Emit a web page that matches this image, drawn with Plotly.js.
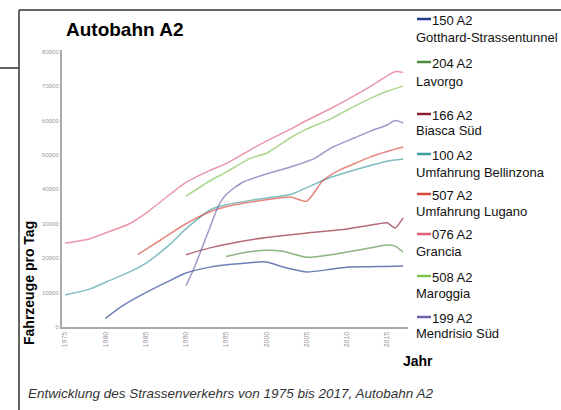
<!DOCTYPE html>
<html>
<head>
<meta charset="utf-8">
<script src="https://cdn.plot.ly/plotly-3.0.1.min.js"></script>
<style>
html,body{margin:0;padding:0;background:#fff;}
#chart{width:561px;height:410px;}
</style>
</head>
<body>
<div id="chart"></div>
<script>
// ---- data ----
const seriesCodes = ["150 A2","204 A2","166 A2","100 A2","507 A2","076 A2","508 A2","199 A2"];
const seriesNames = ["Gotthard-Strassentunnel","Lavorgo","Biasca Süd","Umfahrung Bellinzona","Umfahrung Lugano","Grancia","Maroggia","Mendrisio Süd"];
const seriesColors = ["#1f3c8f","#4c8c3c","#8b1c2c","#3c9aa0","#d9473a","#e0607a","#7cc050","#7060a8"];

const yrs150 = [1980,1982,1985,1988,1990,1993,1996,2000,2002,2005,2008,2010,2013,2015,2017];
const val150 = [2500,6000,10000,13500,15700,17400,18300,18900,17500,16000,16800,17400,17500,17600,17700];

const yrs204 = [1995,1997,2000,2002,2005,2008,2010,2013,2015,2016,2017];
const val204 = [20500,21500,22300,22000,20300,21000,21800,23000,23800,23500,21800];

const yrs166 = [1990,1993,1996,2000,2005,2010,2014,2015,2016,2017];
const val166 = [21000,23000,24500,26000,27300,28500,30000,30300,28800,31700];

const yrs100 = [1975,1978,1980,1983,1985,1988,1990,1993,1995,1998,2001,2003,2005,2008,2010,2013,2015,2017];
const val100 = [9300,11000,13000,16000,18500,24000,28500,34000,35500,36800,37800,38500,40500,43500,45000,47000,48200,48800];

const yrs507 = [1984,1987,1990,1993,1996,2000,2003,2005,2007,2009,2011,2013,2015,2017];
const val507 = [21000,25500,30000,33500,35500,37000,37800,36500,42500,45500,47500,49500,51000,52300];

const yrs076 = [1975,1978,1980,1983,1985,1988,1990,1993,1995,1998,2000,2003,2005,2008,2010,2013,2015,2016,2017];
const val076 = [24400,25600,27300,30000,33000,38500,42000,45500,47500,51500,54000,57500,60000,63500,66000,70000,73000,74200,74000];

const yrs508 = [1990,1993,1995,1998,2000,2003,2005,2008,2010,2013,2015,2017];
const val508 = [38000,42500,45000,49000,50500,55000,57500,60500,63000,66500,68500,70000];

const yrs199 = [1990,1991,1992,1993,1994,1995,1997,2000,2003,2006,2008,2011,2013,2015,2016,2017];
const val199 = [12000,17000,23000,29000,35000,38500,42000,44500,46500,49000,52000,55000,57000,58700,60000,59300];

const xTicks = [1975,1980,1985,1990,1995,2000,2005,2010,2015];
const yTicks = [0,10000,20000,30000,40000,50000,60000,70000,80000];

const chartTitle = "Autobahn A2";
const yTitle = "Fahrzeuge pro Tag";
const xTitle = "Jahr";
const caption = "Entwicklung des Strassenverkehrs von 1975 bis 2017, Autobahn A2";

// ---- build ----
const allX = [yrs150,yrs204,yrs166,yrs100,yrs507,yrs076,yrs508,yrs199];
const allY = [val150,val204,val166,val100,val507,val076,val508,val199];

const traces = allX.map((xs,i)=>({
  type:'scatter', mode:'lines', x:xs, y:allY[i],
  name: seriesCodes[i]+' '+seriesNames[i],
  line:{color:seriesColors[i], width:1.5, shape:'spline', smoothing:0.6},
  opacity:0.65, showlegend:false, hoverinfo:'skip'
}));

const W=561,H=410, L=62, R=408, T=50, B=327;
const px=(x)=>(x-L)/(R-L);
const py=(y)=>(B-y)/(B-T);
const sans = "Liberation Sans, Arial, sans-serif";

const annotations = [];
const shapes = [];

annotations.push({xref:'paper',yref:'paper',x:px(64),y:py(29),xanchor:'left',yanchor:'middle',
  text:'<b>'+chartTitle+'</b>',showarrow:false,font:{family:sans,size:19,color:'#000'}});
annotations.push({xref:'paper',yref:'paper',x:px(29),y:py(283),xanchor:'center',yanchor:'middle',textangle:-90,
  text:'<b>'+yTitle+'</b>',showarrow:false,font:{family:sans,size:14,color:'#000'}});
annotations.push({xref:'paper',yref:'paper',x:px(401),y:py(361),xanchor:'left',yanchor:'middle',
  text:'<b>'+xTitle+'</b>',showarrow:false,font:{family:sans,size:14,color:'#000'}});
annotations.push({xref:'paper',yref:'paper',x:px(26),y:py(394),xanchor:'left',yanchor:'middle',
  text:'<i>'+caption+'</i>',showarrow:false,font:{family:sans,size:13.5,color:'#333'}});

// legend (manual)
const legY1 = [20,63,115,155,195,235,277,318];
const legY2 = [37,81,130,172,211,252,293,333];
seriesCodes.forEach((c,i)=>{
  shapes.push({type:'line',xref:'paper',yref:'paper',x0:px(417),x1:px(431),y0:py(legY1[i]-1),y1:py(legY1[i]-1),
    line:{color:seriesColors[i],width:2.5}});
  annotations.push({xref:'paper',yref:'paper',x:px(430),y:py(legY1[i]),xanchor:'left',yanchor:'middle',
    text:c,showarrow:false,font:{family:sans,size:13,color:'#111'}});
  annotations.push({xref:'paper',yref:'paper',x:px(414),y:py(legY2[i]),xanchor:'left',yanchor:'middle',
    text:seriesNames[i],showarrow:false,font:{family:sans,size:13,color:'#111'}});
});

// frame lines
shapes.push({type:'line',xref:'paper',yref:'paper',x0:px(19),x1:px(561),y0:py(10),y1:py(10),line:{color:'#333',width:1.5}});
shapes.push({type:'line',xref:'paper',yref:'paper',x0:px(19),x1:px(19),y0:py(10),y1:py(410),line:{color:'#333',width:1.5}});
shapes.push({type:'line',xref:'paper',yref:'paper',x0:px(0),x1:px(19),y0:py(68),y1:py(68),line:{color:'#333',width:1.5}});

const layout = {
  width:W,height:H,
  margin:{l:L,r:W-R,t:T,b:H-B,pad:0},
  paper_bgcolor:'#fff',plot_bgcolor:'#fff',
  showlegend:false,
  xaxis:{range:[1974.6,2017.6],tickvals:xTicks,ticktext:xTicks.map(String),tickangle:-90,
    showgrid:false,zeroline:false,showline:true,linecolor:'#aaa',linewidth:2,ticks:'',
    tickfont:{family:sans,size:7,color:'#999'}},
  yaxis:{range:[0,80500],tickvals:yTicks,ticktext:yTicks.map(String),
    showgrid:false,zeroline:false,showline:true,linecolor:'#aaa',linewidth:2,ticks:'',
    tickfont:{family:sans,size:6,color:'#999'}},
  annotations:annotations, shapes:shapes
};

Plotly.newPlot('chart',traces,layout,{staticPlot:true,displayModeBar:false});
</script>
</body>
</html>
